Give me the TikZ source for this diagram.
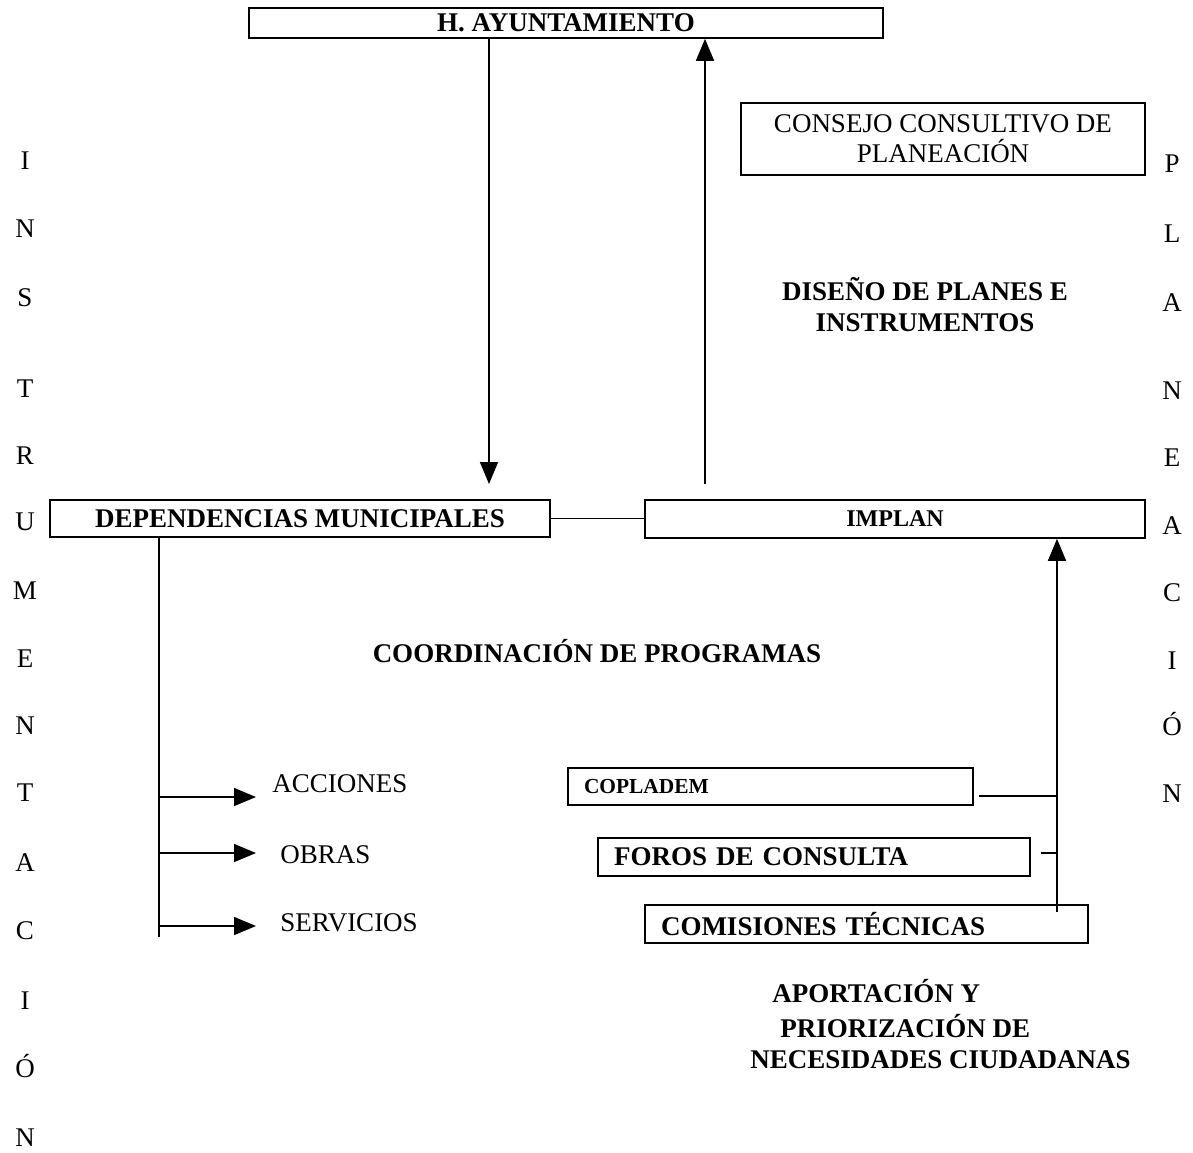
\documentclass[tikz,border=0pt]{standalone}
\usepackage{fontspec}
\setmainfont{Liberation Serif}
\usetikzlibrary{arrows.meta,positioning}

\begin{document}
\begin{tikzpicture}[
    x=0.5pt,y=-0.5pt,
    fnt/.style={font=\fontsize{13.5}{15}\selectfont},
    bfnt/.style={font=\fontsize{13.5}{15.5}\selectfont\bfseries},
    box/.style={draw,line width=0.8pt,inner sep=0pt},
    arr/.style={-{Triangle[length=11pt,width=9pt]},line width=0.8pt},
    ln/.style={line width=0.8pt}
  ]
  \useasboundingbox (0,0) rectangle (1193,1152);

  % boxes
  \node[box,bfnt,minimum width=317pt,minimum height=15pt] (ayto) at (566,23) {H. AYUNTAMIENTO};
  \node[box,fnt,align=center,minimum width=202pt,minimum height=36pt] (consejo) at (943,139) {CONSEJO CONSULTIVO DE\\PLANEACIÓN};
  \node[bfnt,align=center] (diseno) at (925,305) {DISEÑO DE PLANES E\\INSTRUMENTOS};
  \node[box,bfnt,minimum width=250pt,minimum height=18.5pt] (dep) at (300,518.5) {DEPENDENCIAS MUNICIPALES};
  \node[box,font=\fontsize{12}{14}\selectfont\bfseries,minimum width=250pt,minimum height=19pt] (implan) at (895,519) {IMPLAN};
  \node[bfnt] (coord) at (597,651) {COORDINACIÓN DE PROGRAMAS};
  \node[box,font=\fontsize{10.7}{12}\selectfont\bfseries,text width=186.5pt,align=left,inner xsep=8pt,minimum height=18.5pt] (copladem) at (770.5,786.5) {COPLADEM};
  \node[box,bfnt,text width=200pt,align=left,inner xsep=8pt,minimum height=19pt] (foros) at (814,857) {FOROS DE CONSULTA};
  \node[box,bfnt,text width=205.5pt,align=left,inner xsep=8pt,minimum height=19pt] (comis) at (866.5,924) {COMISIONES TÉCNICAS};

  % aportacion
  \node[bfnt,anchor=base west,inner sep=0pt] (aport1) at (772,1002) {APORTACIÓN Y};
  \node[bfnt,anchor=base west,inner sep=0pt] (aport2) at (780,1037) {PRIORIZACIÓN DE};
  \node[bfnt,anchor=base west,inner sep=0pt] (aport3) at (750,1068) {NECESIDADES CIUDADANAS};

  % top arrows
  \coordinate (downtip) at (489,484);
  \coordinate (upfoot) at (705,484);
  \draw[arr] (downtip |- ayto.south) -- (downtip);
  \draw[arr] (upfoot) -- (upfoot |- ayto.south);
  \draw[ln] (dep.east) -- (dep.east -| implan.west);

  % left branch
  \coordinate (ltfoot) at (159,937);
  \draw[ln] (ltfoot |- dep.south) -- (ltfoot);
  \foreach \nm/\txt/\ya/\yl/\xl in {acc/ACCIONES/797/784/272,obr/OBRAS/853/855/280,ser/SERVICIOS/926/923/280}{
    \node[fnt,anchor=west,inner sep=0pt] (\nm) at (\xl,\yl) {\txt};
    \coordinate (\nm tip) at (256,\ya);
    \draw[arr] (\nm tip -| ltfoot) -- (\nm tip);
  }

  % right branch
  \coordinate (trunkfoot) at (1057,912);
  \coordinate (j1) at (1057,796);
  \coordinate (j2) at (1057,853);
  \draw[arr] (trunkfoot) -- (trunkfoot |- implan.south);
  \draw[ln] ([xshift=2.5pt]copladem.east |- j1) -- (j1);
  \draw[ln] ([xshift=5pt]foros.east |- j2) -- (j2);

  % vertical words
  \foreach \ch/\yy [count=\i] in {I/169,N/237,S/306,T/397,R/464,U/530,M/599,E/667,N/734,T/801,A/871,C/939,I/1009,Ó/1077,N/1146}
    \node[fnt,anchor=base,inner sep=0pt] (ins\i) at (25,\yy) {\ch};
  \foreach \ch/\yy [count=\i] in {P/172,L/242,A/311,N/399,E/466,A/534,C/601,I/669,Ó/735,N/802}
    \node[fnt,anchor=base,inner sep=0pt] (pla\i) at (1172,\yy) {\ch};
\end{tikzpicture}
\end{document}
